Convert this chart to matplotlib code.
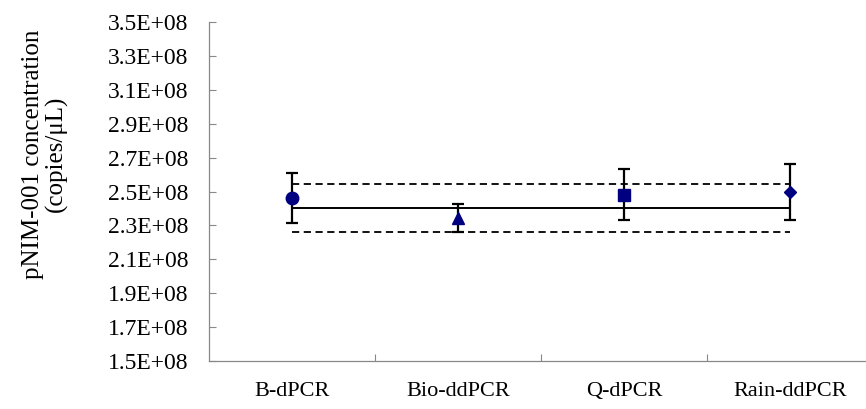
import matplotlib
matplotlib.use('Agg')
import matplotlib.pyplot as plt
import numpy as np

# values
methods = ['B-dPCR', 'Bio-ddPCR', 'Q-dPCR', 'Rain-ddPCR']
conc = [2.463e8, 2.344e8, 2.482e8, 2.497e8]
err = [0.148e8, 0.084e8, 0.150e8, 0.163e8]
markers = ['o', '^', 's', 'D']
msizes = [9, 8, 9, 6.5]
mean_val = 2.403e8
upper_val = 2.544e8
lower_val = 2.261e8
yticks = [1.5e8, 1.7e8, 1.9e8, 2.1e8, 2.3e8, 2.5e8, 2.7e8, 2.9e8, 3.1e8, 3.3e8, 3.5e8]

plt.rcParams['font.family'] = ['Liberation Serif', 'DejaVu Serif']

fig = plt.figure(figsize=(8.66, 4.09), dpi=100)
ax = fig.add_axes([209 / 866, 1 - 361 / 409, 1 - 209 / 866, (361 - 22) / 409])

x = np.arange(1, len(methods) + 1)

ax.plot([x[0], x[-1]], [mean_val, mean_val], color='black', lw=1.4, zorder=2)
ax.plot([x[0], x[-1]], [upper_val, upper_val], color='black', lw=1.3, ls=(0, (4, 2.5)), zorder=2)
ax.plot([x[0], x[-1]], [lower_val, lower_val], color='black', lw=1.3, ls=(0, (4, 2.5)), zorder=2)

for xi, c, e, m, ms in zip(x, conc, err, markers, msizes):
    ax.errorbar(xi, c, yerr=e, fmt='none', ecolor='black', elinewidth=1.6,
                capsize=4.3, capthick=1.6, zorder=3)
    ax.plot(xi, c, marker=m, color='#000080', markersize=ms, ls='none', zorder=4)

ax.set_xlim(0.5, 0.5 + (866 - 209) / 166)
ax.set_ylim(1.5e8, 3.5e8)
ax.set_yticks(yticks)
ax.set_yticklabels(['%.1fE+08' % (v / 1e8) for v in yticks])
ax.set_xticks(x)
ax.set_xticklabels(methods)
ax.set_xticks([1.5, 2.5, 3.5], minor=True)

ax.tick_params(axis='y', direction='in', length=5, width=0.8, color='#888888',
               labelsize=17, pad=15)
ax.tick_params(axis='x', which='major', length=0, labelsize=16, pad=15)
ax.tick_params(axis='x', which='minor', direction='in', length=5, width=0.8, color='#888888')

for s in ['top', 'right']:
    ax.spines[s].set_visible(False)
for s in ['left', 'bottom']:
    ax.spines[s].set_color('#888888')
    ax.spines[s].set_linewidth(0.9)

fig.text(45 / 866, 1 - 154 / 409, 'pNIM-001 concentration\n(copies/\u03bcL)',
         rotation=90, ha='center', va='center', multialignment='center',
         fontsize=18, linespacing=1.0)

fig.savefig('out.png', dpi=100)
